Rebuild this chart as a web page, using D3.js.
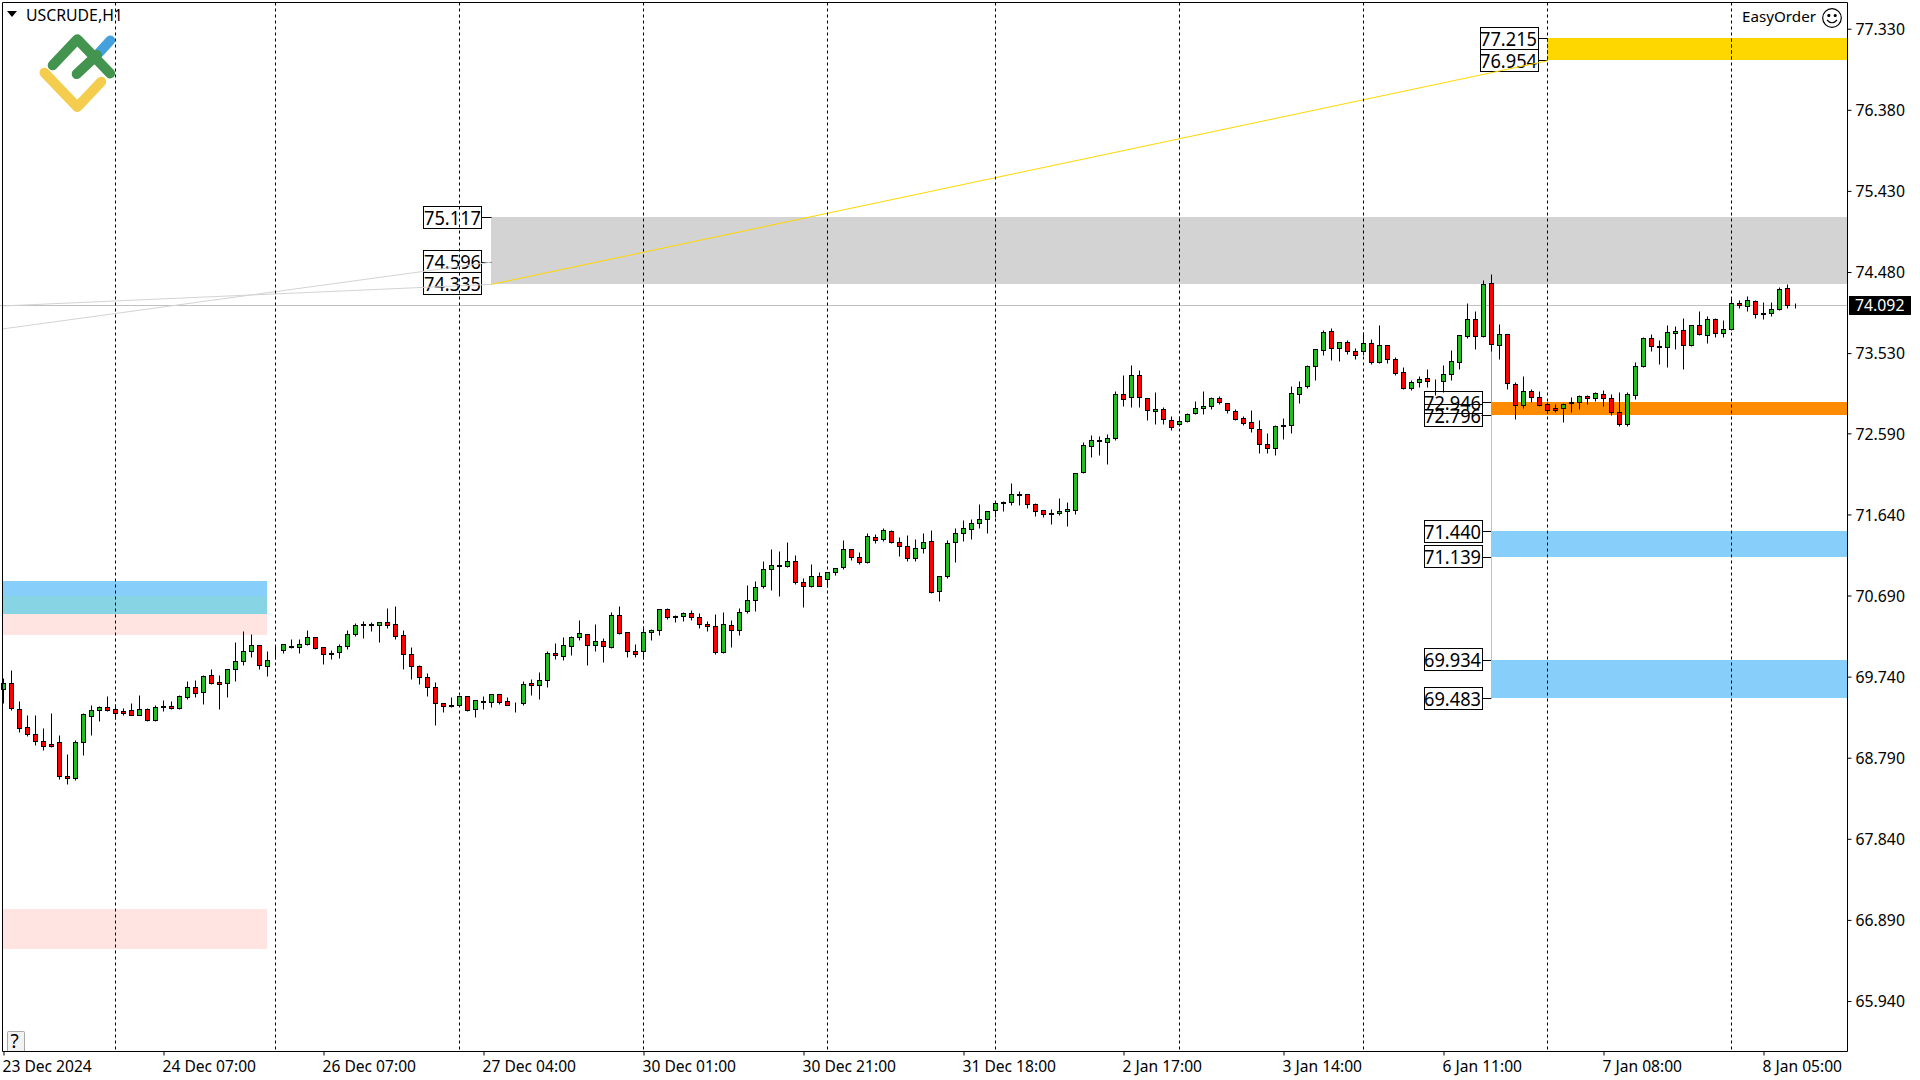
<!DOCTYPE html>
<html><head><meta charset="utf-8">
<script src="https://cdn.jsdelivr.net/npm/d3@7"></script>
<style>html,body{margin:0;padding:0;background:#fff;overflow:hidden}svg{display:block}text{font-family:"Noto Sans",sans-serif;fill:#000}</style>
</head><body><svg id="c" width="1920" height="1080"></svg>
<script>
const open=[69.591,69.662,69.357,69.146,69.064,68.982,68.947,68.970,68.572,68.556,68.970,69.283,69.345,69.380,69.357,69.333,69.345,69.294,69.357,69.236,
69.392,69.392,69.376,69.505,69.615,69.556,69.755,69.673,69.662,69.826,69.919,70.036,70.107,69.861,70.044,70.048,70.103,70.091,70.118,70.200,
70.083,70.013,70.025,70.095,70.236,70.353,70.353,70.341,70.376,70.353,70.224,70.001,69.861,69.732,69.615,69.427,69.404,69.404,69.509,69.357,
69.450,69.438,69.532,69.450,69.431,69.427,69.661,69.637,69.696,70.012,69.977,70.094,70.200,70.235,70.106,70.153,70.083,70.458,70.258,70.036,
70.044,70.258,70.282,70.528,70.450,70.446,70.481,70.434,70.352,70.329,70.032,70.340,70.282,70.505,70.633,70.797,70.996,71.043,71.032,71.090,
70.844,70.805,70.914,70.879,70.961,71.020,71.231,71.137,71.078,71.371,71.348,71.442,71.313,71.266,71.125,71.242,71.324,70.739,70.914,71.313,
71.418,71.465,71.535,71.582,71.688,71.781,71.781,71.875,71.875,71.758,71.688,71.652,71.652,71.676,71.695,72.133,72.437,72.508,72.484,72.531,
73.047,73.011,73.269,73.000,72.847,72.871,72.742,72.695,72.730,72.824,72.882,72.906,73.000,72.941,72.847,72.765,72.718,72.636,72.461,72.414,
72.683,72.683,73.047,73.140,73.374,73.562,73.785,73.586,73.656,73.551,73.551,73.645,73.422,73.621,73.457,73.305,73.117,73.188,73.234,73.203,
73.199,73.282,73.430,73.731,73.926,73.735,74.348,73.621,73.750,73.164,72.918,73.082,73.012,72.930,72.883,72.883,72.954,72.954,73.024,73.000,
73.047,73.000,72.836,72.704,73.036,73.375,73.703,73.610,73.598,73.762,73.797,73.621,73.856,73.738,73.926,73.762,73.809,74.113,74.078,74.137,
73.996,73.996,74.043,74.289,74.090];
const close=[69.662,69.369,69.134,69.064,68.982,68.931,68.931,68.572,68.556,68.970,69.298,69.345,69.380,69.353,69.318,69.318,69.294,69.357,69.228,69.380,
69.384,69.376,69.509,69.615,69.552,69.744,69.662,69.658,69.826,69.919,70.036,70.107,69.872,69.931,70.040,70.118,70.087,70.118,70.200,70.079,
70.009,70.009,70.095,70.236,70.341,70.341,70.341,70.376,70.349,70.212,70.001,69.861,69.732,69.615,69.427,69.392,69.392,69.509,69.345,69.462,
69.438,69.532,69.446,69.411,69.427,69.649,69.637,69.696,70.012,69.989,70.106,70.200,70.247,70.106,70.153,70.094,70.458,70.255,70.036,70.001,
70.258,70.282,70.528,70.434,70.434,70.481,70.434,70.352,70.329,70.032,70.352,70.282,70.493,70.633,70.786,70.996,71.043,71.032,71.090,70.844,
70.805,70.914,70.805,70.961,71.008,71.231,71.137,71.078,71.383,71.336,71.453,71.313,71.266,71.125,71.242,71.313,70.727,70.914,71.301,71.418,
71.477,71.535,71.582,71.676,71.770,71.770,71.875,71.863,71.758,71.676,71.641,71.641,71.676,71.699,72.121,72.449,72.508,72.496,72.531,73.047,
72.988,73.269,73.011,72.859,72.871,72.754,72.660,72.730,72.812,72.882,72.906,73.000,72.953,72.859,72.754,72.707,72.648,72.461,72.414,72.672,
72.672,73.058,73.128,73.374,73.574,73.773,73.586,73.656,73.551,73.504,73.645,73.422,73.621,73.457,73.293,73.117,73.188,73.223,73.199,73.199,
73.281,73.434,73.738,73.926,73.727,74.336,73.633,73.750,73.176,72.918,73.082,73.012,72.918,72.868,72.868,72.930,72.942,73.024,73.000,73.059,
73.000,72.836,72.704,73.047,73.375,73.703,73.610,73.598,73.774,73.785,73.621,73.856,73.750,73.926,73.762,73.809,74.113,74.090,74.149,73.984,
73.984,74.043,74.277,74.090,74.092];
const high=[69.720,69.818,69.451,69.291,69.291,69.134,69.314,69.056,68.834,68.998,69.310,69.408,69.396,69.513,69.416,69.369,69.431,69.525,69.369,69.404,
69.466,69.451,69.521,69.685,69.701,69.759,69.829,69.759,69.826,70.146,70.271,70.236,70.107,70.036,70.115,70.118,70.181,70.181,70.282,70.200,
70.083,70.048,70.118,70.282,70.364,70.388,70.380,70.384,70.544,70.568,70.282,70.083,69.872,69.779,69.673,69.427,69.501,69.509,69.509,69.470,
69.509,69.532,69.532,69.497,69.438,69.684,69.708,69.790,70.036,70.130,70.200,70.215,70.403,70.235,70.352,70.188,70.493,70.563,70.258,70.122,
70.329,70.294,70.528,70.540,70.458,70.493,70.520,70.481,70.387,70.469,70.493,70.399,70.540,70.809,70.856,71.090,71.231,71.207,71.317,71.160,
70.891,71.055,70.961,70.961,71.008,71.336,71.231,71.196,71.418,71.406,71.477,71.453,71.371,71.395,71.348,71.418,71.453,70.914,71.336,71.477,
71.570,71.582,71.762,71.676,71.770,71.793,72.004,71.910,71.875,71.770,71.688,71.703,71.828,71.781,72.129,72.484,72.566,72.555,72.578,73.082,
73.273,73.390,73.328,73.000,73.074,72.894,72.789,72.789,72.824,72.968,73.086,73.011,73.023,72.941,72.871,72.789,72.863,72.742,72.590,72.683,
72.765,73.140,73.199,73.386,73.574,73.801,73.820,73.656,73.680,73.586,73.773,73.695,73.859,73.621,73.480,73.363,73.211,73.258,73.340,73.223,
73.387,73.567,73.738,74.113,74.024,74.387,74.453,73.867,73.750,73.188,73.262,73.106,73.082,72.954,72.930,72.942,73.012,73.036,73.036,73.071,
73.094,73.047,73.071,73.071,73.422,73.715,73.750,73.680,73.856,73.844,73.938,73.856,74.020,73.961,73.938,73.914,74.172,74.149,74.195,74.149,
74.125,74.125,74.301,74.340,74.113];
const low=[69.427,69.349,69.095,69.045,68.939,68.881,68.920,68.545,68.482,68.529,68.822,69.056,69.224,69.337,69.240,69.291,69.287,69.291,69.220,69.224,
69.341,69.357,69.361,69.478,69.501,69.419,69.658,69.361,69.501,69.689,69.876,69.974,69.833,69.747,69.951,70.021,70.072,70.021,70.111,70.064,
69.888,69.947,69.958,70.068,70.216,70.193,70.275,70.146,70.314,70.185,69.829,69.716,69.654,69.513,69.177,69.326,69.388,69.392,69.341,69.267,
69.360,69.384,69.419,69.407,69.325,69.407,69.524,69.477,69.618,69.946,69.934,69.993,70.169,69.876,70.040,69.911,70.079,70.239,69.969,69.969,
69.946,70.169,70.227,70.415,70.379,70.391,70.403,70.309,70.274,70.005,70.016,70.087,70.227,70.485,70.508,70.778,70.754,70.684,71.028,70.829,
70.555,70.790,70.801,70.790,70.930,71.000,71.106,71.063,71.075,71.309,71.328,71.301,71.153,71.094,71.094,71.188,70.723,70.625,70.895,71.082,
71.328,71.352,71.481,71.422,71.613,71.680,71.750,71.750,71.719,71.625,71.613,71.527,71.637,71.504,71.645,72.129,72.312,72.336,72.230,72.515,
72.910,72.898,72.898,72.746,72.699,72.699,72.629,72.676,72.722,72.816,72.816,72.879,72.933,72.832,72.746,72.687,72.609,72.359,72.359,72.336,
72.523,72.593,72.945,73.125,73.214,73.512,73.449,73.441,73.523,73.461,73.508,73.406,73.418,73.418,73.277,73.113,73.102,73.129,73.129,73.039,
73.078,73.215,73.344,73.711,73.582,73.719,73.559,73.465,73.114,72.762,72.883,72.961,72.914,72.832,72.844,72.727,72.840,72.879,72.938,72.965,
72.911,72.809,72.680,72.680,72.997,73.371,73.559,73.407,73.371,73.582,73.348,73.610,73.738,73.653,73.723,73.719,73.805,74.063,74.027,73.945,
73.934,73.969,74.035,74.063,74.063];

const priceTicks=[77.330,76.380,75.430,74.480,73.530,72.590,71.640,70.690,69.740,68.790,67.840,66.890,65.940];
const timeTickBars=[0,20,40,60,80,100,120,140,160,180,200,220];
const timeTickLabels=["23 Dec 2024","24 Dec 07:00","26 Dec 07:00","27 Dec 04:00","30 Dec 01:00","30 Dec 21:00","31 Dec 18:00","2 Jan 17:00","3 Jan 14:00","6 Jan 11:00","7 Jan 08:00","8 Jan 05:00"];
const separatorBars=[14,34,57,80,103,124,147,170,193,216];
const lastPrice=74.092;
const zoneStartBar=[193,61,186,186,186];
const zoneTop=[77.215,75.117,72.946,71.440,69.934];
const zoneBottom=[76.954,74.335,72.796,71.139,69.483];
const zoneColor=["#FFD700","#D3D3D3","#FF8C00","#87CEFA","#87CEFA"];
const leftZoneEndBar=33;
const leftZoneTop=[70.684,70.860,70.684,67.017];
const leftZoneBottom=[70.227,70.462,70.462,66.540];
const leftZoneColor=["#FFE4E1","#87CEFA","#87D5E4","#FFE4E1"];
const labelPrices=[77.215,76.954,75.117,74.596,74.335,72.946,72.796,71.440,71.139,69.934,69.483];
const labelTexts=["77.215","76.954","75.117","74.596","74.335","72.946","72.796","71.440","71.139","69.934","69.483"];
const labelBars=[193,193,61,61,61,186,186,186,186,186,186];
const segBar1=[-0.2,-0.2,61,186,186];
const segPrice1=[73.812,74.082,74.335,73.559,72.796];
const segBar2=[61,61,193,186,186];
const segPrice2=[74.596,74.335,76.954,72.946,69.483];
const segColor=["#D3D3D3","#D3D3D3","#FFD700","#FF8C00","#87CEFA"];

const W=1847.5,H=1051,L=2.5,T=2.5;
const x=d3.scaleLinear().domain([0,224]).range([3.5,1795.5]);
const y=d3.scaleLinear().domain([74.48,65.94]).range([272,1001]);
const snap=v=>Math.round(v)+0.5;
const snapLine=v=>Math.floor(v)+0.5;
const svg=d3.select("#c");

/* left-side zones */
svg.append("g").selectAll("rect").data(leftZoneTop).join("rect")
 .attr("x",L).attr("width",x(leftZoneEndBar)-L-0.5)
 .attr("y",d=>Math.floor(y(d))).attr("height",(d,i)=>Math.floor(y(leftZoneBottom[i]))-Math.floor(y(d)))
 .attr("fill",(d,i)=>leftZoneColor[i]);

/* right-side zones */
svg.append("g").selectAll("rect").data(zoneTop).join("rect")
 .attr("x",(d,i)=>Math.floor(x(zoneStartBar[i]))).attr("width",(d,i)=>W-Math.floor(x(zoneStartBar[i])))
 .attr("y",d=>Math.floor(y(d))).attr("height",(d,i)=>Math.floor(y(zoneBottom[i]))-Math.floor(y(d)))
 .attr("fill",(d,i)=>zoneColor[i]);

/* last-price line */
svg.append("line").attr("x1",0).attr("x2",W).attr("y1",snapLine(y(lastPrice))).attr("y2",snapLine(y(lastPrice))).attr("stroke","#C0C0C0");

/* connectors and boxes */
const zoneGapX=10,boxW=58,boxH=22;
const lab=svg.append("g");
lab.selectAll("line").data(labelPrices).join("line")
 .attr("x1",(d,i)=>x(labelBars[i])-zoneGapX).attr("x2",(d,i)=>x(labelBars[i]))
 .attr("y1",d=>snapLine(y(d))).attr("y2",d=>snapLine(y(d)))
 .attr("stroke",(d,i)=>i==4?"#C8C8C8":"#000");
lab.selectAll("rect").data(labelPrices).join("rect")
 .attr("x",(d,i)=>Math.round(x(labelBars[i])-zoneGapX-boxW)+0.5)
 .attr("y",d=>Math.round(y(d)-boxH/2)-0.5)
 .attr("width",boxW).attr("height",boxH)
 .attr("fill",(d,i)=>(i==6?"none":"#fff")).attr("stroke","#000");
lab.selectAll("text").data(labelPrices).join("text")
 .attr("x",(d,i)=>x(labelBars[i])-zoneGapX-boxW/2)
 .attr("y",d=>y(d)+7).attr("text-anchor","middle").attr("font-size",19.6)
 .attr("textLength",57).attr("lengthAdjust","spacingAndGlyphs")
 .text((d,i)=>labelTexts[i]);

/* trend segments */
svg.append("g").selectAll("line").data(segBar1).join("line")
 .attr("x1",d=>x(d)).attr("y1",(d,i)=>y(segPrice1[i]))
 .attr("x2",(d,i)=>x(segBar2[i])).attr("y2",(d,i)=>y(segPrice2[i]))
 .attr("stroke",(d,i)=>segColor[i]).attr("stroke-width",1);

/* period separators */
svg.append("g").selectAll("line").data(separatorBars).join("line")
 .attr("x1",d=>x(d)).attr("x2",d=>x(d)).attr("y1",T).attr("y2",H)
 .attr("stroke","#000").attr("stroke-dasharray","3,3");
svg.append("g").selectAll("line").data(separatorBars.filter(d=>d>=193)).join("line")
 .attr("x1",d=>x(d)).attr("x2",d=>x(d)).attr("y1",y(zoneTop[0])).attr("y2",y(zoneBottom[0]))
 .attr("stroke","#0000C0").attr("stroke-dasharray","3,3");

/* candles */
const bars=d3.range(open.length);
const cg=svg.append("g");
cg.selectAll("line").data(bars).join("line")
 .attr("x1",i=>x(i)).attr("x2",i=>x(i))
 .attr("y1",i=>snap(y(high[i]))).attr("y2",i=>snap(y(low[i])))
 .attr("stroke","#000");
cg.selectAll("rect").data(bars).join("rect")
 .attr("x",i=>x(i)-2).attr("width",4)
 .attr("y",i=>snap(y(Math.max(open[i],close[i]))))
 .attr("height",i=>snap(y(Math.min(open[i],close[i])))-snap(y(Math.max(open[i],close[i]))))
 .attr("fill",i=>close[i]>open[i]?"#22BB22":"#FF0000").attr("stroke","#000");

/* frame */
svg.append("path").attr("d",`M${L},${H+0.5}V${T}H${W}V${H+0.5}H${L}`).attr("fill","none").attr("stroke","#000");

/* price axis */
const ya=d3.axisRight(y).tickValues(priceTicks).tickSize(4).tickPadding(4).tickFormat(d3.format(".3f"));
const yg=svg.append("g").attr("transform",`translate(${W},0)`).call(ya);
yg.select(".domain").remove();
yg.selectAll("text").attr("font-size",15.8).attr("font-family",'"Noto Sans",sans-serif').attr("fill","#000").attr("dy","0.36em");
yg.selectAll("line").attr("stroke","#000");

/* time axis */
const xa=d3.axisBottom(x).tickValues(timeTickBars).tickSize(4).tickPadding(5)
 .tickFormat((d,i)=>timeTickLabels[i]);
const xg=svg.append("g").attr("transform",`translate(0,${H+0.5})`).call(xa);
xg.select(".domain").remove();
xg.selectAll("text").attr("font-size",15.6).attr("font-family",'"Noto Sans",sans-serif').attr("fill","#000").attr("text-anchor","start").attr("dx",-1.5);
xg.selectAll("line").attr("stroke","#000");

/* last-price tag */
svg.append("rect").attr("x",1849).attr("width",62).attr("y",296).attr("height",19).attr("fill","#000");
svg.append("text").attr("x",1855).attr("y",311).attr("font-size",15.8).style("fill","#fff").text(d3.format(".3f")(lastPrice));

/* title */
svg.append("path").attr("d","M7,11H17L12,17Z").attr("fill","#000");
svg.append("text").attr("x",26).attr("y",21).attr("font-size",15.8).text("USCRUDE,H1");
svg.append("text").attr("x",1742).attr("y",22).attr("font-size",15.2).text("EasyOrder");

/* smiley */
const sm=svg.append("g").attr("transform","translate(1832,18)").attr("fill","none").attr("stroke","#000").attr("stroke-width",1.2);
sm.append("circle").attr("r",9.3);
sm.append("circle").attr("cx",-3.2).attr("cy",-2.5).attr("r",1).attr("fill","#000");
sm.append("circle").attr("cx",3.2).attr("cy",-2.5).attr("r",1).attr("fill","#000");
sm.append("path").attr("d","M-5,2 Q0,7.5 5,2");

/* help button */
svg.append("path").attr("d","M7.5,1051V1032.5Q7.5,1031.5 8.5,1031.5H23.5Q24.5,1031.5 24.5,1032.5V1051").attr("fill","#F2F2F2").attr("stroke","#A8A8A8");
svg.append("text").attr("x",14.5).attr("y",1048).attr("text-anchor","middle").attr("font-size",19).text("?");

/* logo */
const logo=svg.append("g").attr("fill","none").attr("stroke-width",10).attr("stroke-linecap","round").attr("stroke-linejoin","round");
logo.append("path").attr("d","M97,55L110.2,40.5").attr("stroke","#45A1DE");
logo.append("path").attr("d","M52.7,65.3L77.3,39.3L110.2,73.5M76.7,74L97,55").attr("stroke","#43944F");
logo.append("path").attr("d","M44.5,72.7L77.3,107L101.2,81.7").attr("stroke","#F4CD4E");
</script></body></html>
